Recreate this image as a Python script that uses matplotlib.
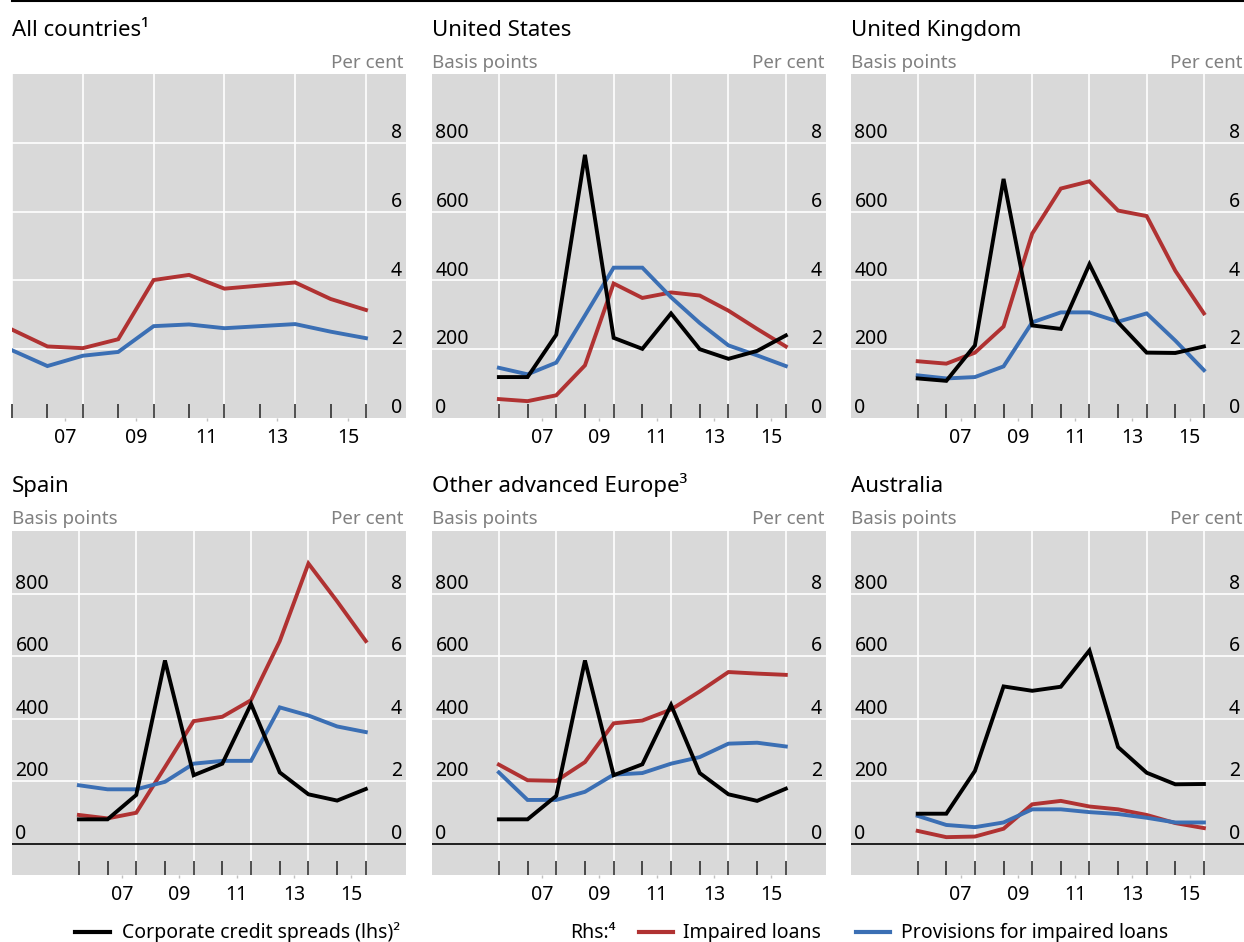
import numpy as np
import matplotlib.pyplot as plt
from matplotlib.lines import Line2D

plt.rcParams['font.family'] = ['Noto Sans', 'DejaVu Sans']

W, H = 1244, 942

years = list(range(2005, 2016))
label_years = [2007, 2009, 2011, 2013, 2015]

# corporate credit spreads, basis points (lhs)
us_spreads = [119, 119, 242, 765, 233, 201, 304, 200, 172, 195, 240]
uk_spreads = [115, 108, 211, 695, 269, 259, 447, 278, 190, 189, 208]
es_spreads = [78, 78, 156, 586, 219, 256, 447, 228, 158, 138, 175]
oae_spreads = [78, 78, 153, 586, 219, 254, 444, 226, 158, 137, 176]
au_spreads = [96, 96, 233, 503, 489, 502, 618, 309, 227, 190, 191]

# impaired loans, per cent (rhs)
all_impaired = [2.57, 2.08, 2.03, 2.29, 4.01, 4.16, 3.76, 3.85, 3.94, 3.46, 3.14]
us_impaired = [0.55, 0.49, 0.66, 1.53, 3.91, 3.49, 3.65, 3.56, 3.12, 2.59, 2.08]
uk_impaired = [1.65, 1.58, 1.90, 2.66, 5.36, 6.67, 6.88, 6.03, 5.87, 4.28, 3.04]
es_impaired = [0.92, 0.81, 0.99, 2.45, 3.92, 4.06, 4.59, 6.48, 8.96, 7.75, 6.48]
oae_impaired = [2.53, 2.03, 2.01, 2.61, 3.85, 3.94, 4.29, 4.87, 5.49, 5.44, 5.40]
au_impaired = [0.41, 0.21, 0.23, 0.48, 1.26, 1.37, 1.19, 1.10, 0.92, 0.66, 0.50]

# provisions for impaired loans, per cent (rhs)
all_provisions = [1.97, 1.51, 1.81, 1.92, 2.67, 2.72, 2.61, 2.67, 2.73, 2.51, 2.32]
us_provisions = [1.46, 1.27, 1.61, 2.98, 4.37, 4.37, 3.51, 2.76, 2.11, 1.82, 1.51]
uk_provisions = [1.24, 1.15, 1.19, 1.50, 2.78, 3.07, 3.07, 2.80, 3.04, 2.25, 1.39]
es_provisions = [1.87, 1.74, 1.74, 1.98, 2.56, 2.65, 2.65, 4.36, 4.10, 3.75, 3.57]
oae_provisions = [2.28, 1.40, 1.40, 1.66, 2.21, 2.26, 2.56, 2.77, 3.20, 3.23, 3.11]
au_provisions = [0.89, 0.60, 0.53, 0.68, 1.10, 1.10, 1.01, 0.95, 0.83, 0.68, 0.68]

titles = ["All countries\u00b9", "United States", "United Kingdom",
          "Spain", "Other advanced Europe\u00b3", "Australia"]
spreads = [None, us_spreads, uk_spreads, es_spreads, oae_spreads, au_spreads]
impaired = [all_impaired, us_impaired, uk_impaired, es_impaired, oae_impaired, au_impaired]
provisions = [all_provisions, us_provisions, uk_provisions, es_provisions, oae_provisions, au_provisions]

RED = "#b03232"
BLUE = "#3b6fb4"
BG = "#d9d9d9"
GREY_TXT = "#808080"

col_left = [12, 432, 851]
col_right = [406, 826, 1244]
row_top = [74, 531]
row_bottom = [418, 875]
title_base = [36, 492]
unit_base = [68, 524]

fig = plt.figure(figsize=(W / 100, H / 100), dpi=100)

x = np.array(years) + 0.5

for i in range(6):
    r, c = divmod(i, 3)
    l, rt = col_left[c], col_right[c]
    t, b = row_top[r], row_bottom[r]
    ax = fig.add_axes([l / W, 1 - b / H, (rt - l) / W, (b - t) / H])
    ax2 = ax.twinx()
    ax.set_facecolor(BG)
    for a in (ax, ax2):
        for s in a.spines.values():
            s.set_visible(False)
        a.set_yticks([])

    if i == 0:
        ax.set_xlim(2005.5, 2016.63)
    else:
        ax.set_xlim(2003.17, 2016.9)

    lo = 0 if r == 0 else -1
    ax.set_ylim(lo, 10)
    ax2.set_ylim(lo * 100, 1000)

    for v in [2, 4, 6, 8]:
        ax.axhline(v, color="white", lw=1.2, zorder=0.5)
    for xv in x[::2]:
        ax.axvline(xv, color="white", lw=1.2, zorder=0.5)
    if r == 1:
        ax.axhline(0, color="black", lw=1.2, zorder=0.6)

    ax.plot(x, impaired[i], color=RED, lw=2.8, solid_joinstyle="miter", zorder=2)
    ax.plot(x, provisions[i], color=BLUE, lw=2.8, solid_joinstyle="miter", zorder=2)
    if spreads[i] is not None:
        ax2.plot(x, spreads[i], color="black", lw=2.8, solid_joinstyle="miter", zorder=3)

    ax.set_xticks(x, [""] * len(x))
    ax.tick_params(axis="x", which="major", direction="in", length=10,
                   width=1.1, color="#222222")
    ax.set_xticks(label_years, [f"{y % 100:02d}" for y in label_years], minor=True)
    ax.tick_params(axis="x", which="minor", direction="out", length=2,
                   width=1, color="#c0c0c0", labelsize=14, pad=5.5)

    for v in [0, 2, 4, 6, 8]:
        ax.annotate(str(v), xy=(1, v), xycoords=ax.get_yaxis_transform(),
                    xytext=(-3, 3.5), textcoords="offset points",
                    ha="right", va="baseline", fontsize=14)
        if i > 0:
            ax.annotate(str(v * 100), xy=(0, v), xycoords=ax.get_yaxis_transform(),
                        xytext=(2.5, 3.5), textcoords="offset points",
                        ha="left", va="baseline", fontsize=14)

    fig.text(l / W, 1 - title_base[r] / H, titles[i], fontsize=16,
             ha="left", va="baseline")
    fig.text((rt - 2) / W, 1 - unit_base[r] / H, "Per cent", fontsize=13.5,
             color=GREY_TXT, ha="right", va="baseline")
    if i > 0:
        fig.text(l / W, 1 - unit_base[r] / H, "Basis points", fontsize=13.5,
                 color=GREY_TXT, ha="left", va="baseline")

# rule across the top
fig.add_artist(Line2D([12 / W, 1], [1 - 1 / H] * 2, color="black", lw=1.5,
                      transform=fig.transFigure))

# legend
ly = 1 - 932 / H
tb = 1 - 938 / H
for (x0, x1), col in [((75, 110), "black"), ((639, 673), RED), ((856, 890), BLUE)]:
    fig.add_artist(Line2D([x0 / W, x1 / W], [ly, ly], color=col, lw=3,
                          transform=fig.transFigure))
fig.text(122 / W, tb, "Corporate credit spreads (lhs)\u00b2", fontsize=14,
         ha="left", va="baseline")
fig.text(570 / W, tb, "Rhs:\u2074", fontsize=14, ha="left", va="baseline")
fig.text(683 / W, tb, "Impaired loans", fontsize=14, ha="left", va="baseline")
fig.text(901 / W, tb, "Provisions for impaired loans", fontsize=14,
         ha="left", va="baseline")

fig.savefig("out.png", dpi=100)
